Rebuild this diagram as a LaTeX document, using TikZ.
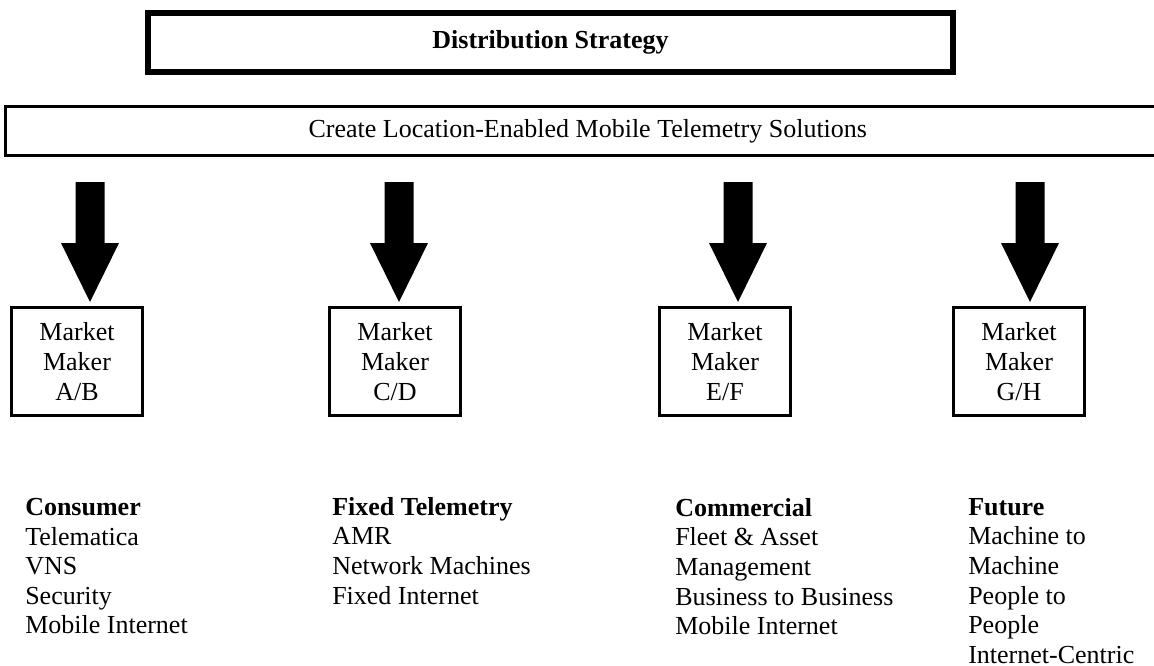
\documentclass[tikz,border=0pt]{standalone}
\usepackage{fontspec}
\setmainfont{Liberation Serif}
\begin{document}
\begin{tikzpicture}[x=0.75pt,y=-0.75pt,
  every node/.style={font=\fontsize{19.5pt}{22.2pt}\selectfont},
  titlebox/.style={draw, line width=4.5pt, minimum width=603.75pt, minimum height=44.25pt, inner sep=0pt, font=\fontsize{19.5pt}{22.2pt}\selectfont\bfseries},
  goalbox/.style={draw, line width=2.25pt, minimum width=873.4pt, minimum height=36.75pt, inner sep=0pt},
  mmbox/.style={draw, line width=2.25pt, minimum width=98.25pt, minimum height=81pt, inner sep=0pt, align=center},
  seglist/.style={anchor=north west, inner sep=0pt, align=left},
  bigarrow/.style={fill=black}
]
\useasboundingbox (0,0) rectangle (1154,665);
\node[titlebox] (title) at (550.5,42.5) {Distribution Strategy};
\node[goalbox] (goal) at (587.75,131) {Create Location-Enabled Mobile Telemetry Solutions};
\node[mmbox] (m1) at (77,361.5) {Market\\Maker\\A/B};
\node[mmbox] (m2) at (395,361.5) {Market\\Maker\\C/D};
\node[mmbox] (m3) at (725,361.5) {Market\\Maker\\E/F};
\node[mmbox] (m4) at (1019,361.5) {Market\\Maker\\G/H};
\coordinate (t1) at ([xshift=9.75pt,yshift=3pt]m1.north);
\coordinate (t2) at ([xshift=3pt,yshift=3pt]m2.north);
\coordinate (t3) at ([xshift=9.75pt,yshift=3pt]m3.north);
\coordinate (t4) at ([xshift=8.25pt,yshift=3pt]m4.north);
\foreach \t in {t1,t2,t3,t4}{
  \fill[bigarrow] (\t) -- ++(-29,-59) -- ++(14.5,0) -- ++(0,-61) -- ++(29,0) -- ++(0,61) -- ++(14.5,0) -- cycle;
}
\node[seglist] (s1) at (25,498) {\textbf{Consumer}\\Telematica\\VNS\\Security\\Mobile Internet};
\node[seglist] (s2) at (332,497) {\textbf{Fixed Telemetry}\\AMR\\Network Machines\\Fixed Internet};
\node[seglist] (s3) at (675,498) {\textbf{Commercial}\\Fleet \& Asset\\Management\\Business to Business\\Mobile Internet};
\node[seglist] (s4) at (968,498) {\textbf{Future}\\Machine to\\Machine\\People to\\People\\Internet-Centric};
\end{tikzpicture}
\end{document}
